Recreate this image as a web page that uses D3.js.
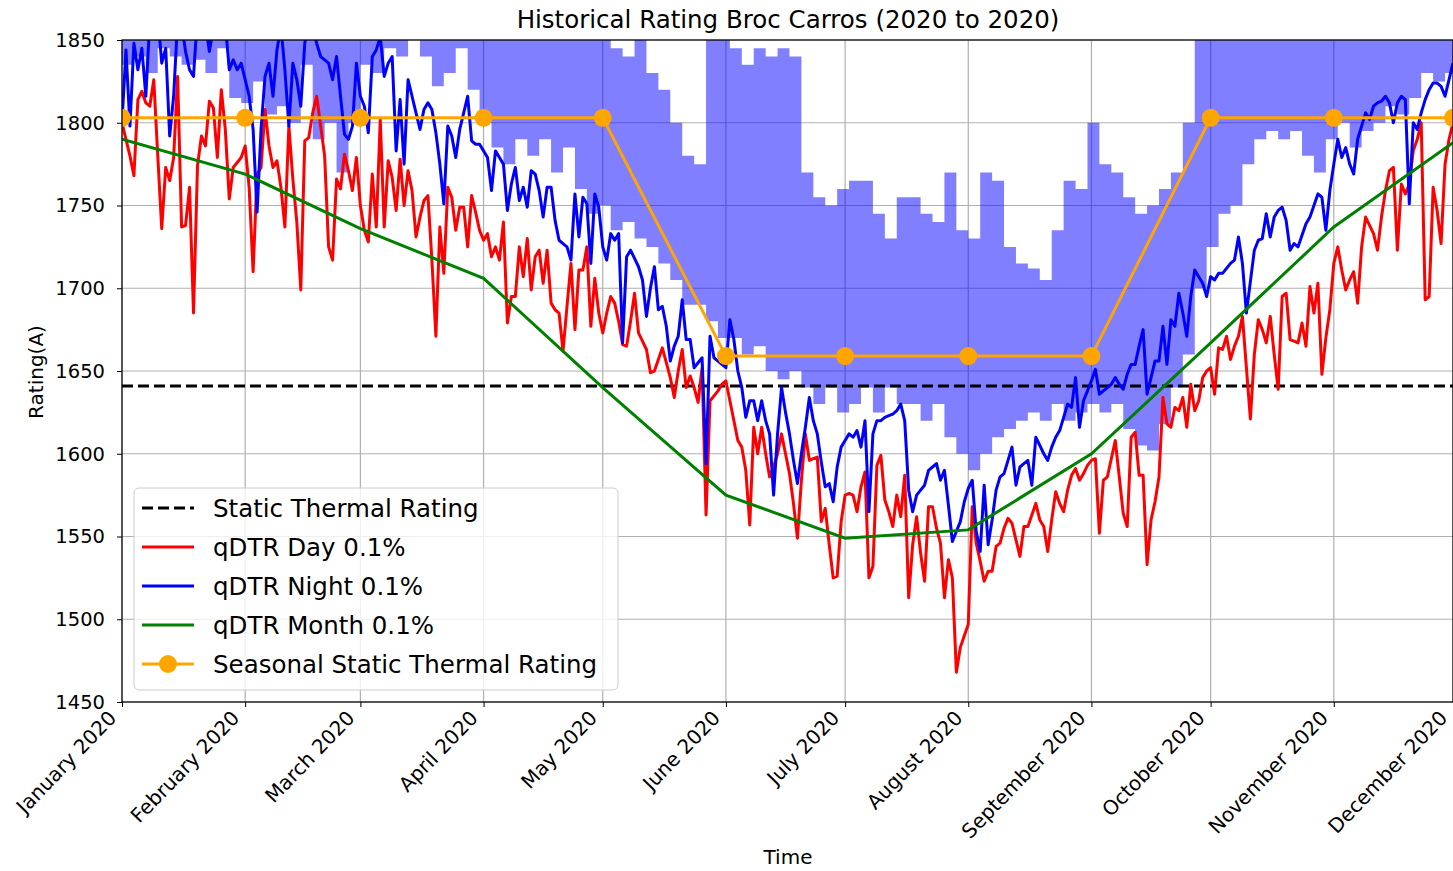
<!DOCTYPE html>
<html>
<head>
<meta charset="utf-8">
<script src="https://cdn.jsdelivr.net/npm/d3@7"></script>
<style>
  body { margin: 0; background: #fff; }
  text { font-family: "DejaVu Sans", sans-serif; fill: #000; }
</style>
</head>
<body>
<svg id="chart" width="1453" height="871"></svg>
<script>
// ---- data ----
const monthLabels = ["January 2020","February 2020","March 2020","April 2020","May 2020","June 2020",
  "July 2020","August 2020","September 2020","October 2020","November 2020","December 2020"];
const yTicks = [1450, 1500, 1550, 1600, 1650, 1700, 1750, 1800, 1850];

// qDTR Month 0.1% (one value at the start of each month)
const monthRating = [1790, 1769, 1736, 1706, 1640, 1575, 1549, 1554, 1600, 1667, 1737, 1788];
// Seasonal Static Thermal Rating (one per month)
const seasonalRating = [1803, 1803, 1803, 1803, 1803, 1659, 1659, 1659, 1659, 1803, 1803, 1803];
const staticRating = 1641;

// qDTR Day 0.1%, one value per day from 1 Jan 2020
const dayRating = [
  1800,1790,1780,1768,1814,1819,1812,1810,1826,1780,
  1736,1773,1765,1779,1828,1737,1738,1761,1685,1774,
  1792,1786,1813,1809,1779,1820,1796,1754,1773,1776,
  1779,1786,1761,1710,1769,1773,1808,1786,1773,1777,
  1761,1737,1798,1766,1740,1699,1789,1791,1806,1816,
  1798,1780,1725,1717,1766,1760,1781,1771,1759,1779,
  1750,1735,1728,1769,1737,1802,1737,1777,1767,1747,
  1778,1750,1771,1759,1731,1743,1753,1756,1717,1671,
  1737,1709,1761,1755,1735,1749,1749,1725,1756,1746,
  1735,1729,1733,1719,1725,1717,1740,1679,1695,1695,
  1725,1707,1730,1699,1719,1723,1703,1723,1691,1687,
  1685,1662,1689,1715,1675,1711,1711,1725,1677,1706,
  1685,1673,1685,1695,1691,1680,1666,1665,1680,1697,
  1673,1668,1663,1649,1650,1657,1664,1655,1646,1634,
  1650,1663,1640,1647,1640,1631,1652,1563,1632,1635,
  1638,1642,1644,1632,1620,1608,1604,1590,1557,1616,
  1600,1616,1600,1586,1592,1600,1612,1600,1588,1570,
  1549,1584,1612,1596,1597,1598,1559,1567,1545,1525,
  1526,1559,1575,1576,1575,1565,1580,1589,1525,1532,
  1593,1599,1572,1565,1556,1575,1562,1587,1513,1545,
  1562,1540,1523,1568,1568,1555,1546,1513,1536,1525,
  1468,1483,1490,1497,1568,1546,1535,1523,1529,1529,
  1544,1546,1555,1561,1558,1548,1538,1556,1556,1563,
  1570,1560,1556,1541,1560,1577,1570,1565,1578,1587,
  1591,1584,1588,1593,1596,1597,1552,1584,1586,1597,
  1608,1586,1564,1556,1610,1613,1587,1587,1533,1560,
  1571,1586,1634,1618,1616,1628,1626,1634,1616,1642,
  1626,1632,1646,1650,1652,1636,1664,1663,1671,1657,
  1665,1671,1683,1652,1621,1660,1681,1675,1667,1683,
  1660,1639,1695,1697,1669,1668,1667,1679,1665,1701,
  1685,1703,1648,1670,1687,1715,1725,1711,1699,1705,
  1710,1691,1725,1743,1738,1733,1723,1743,1759,1771,
  1773,1723,1763,1757,1763,1783,1790,1800,1693,1695,
  1761,1747,1727,1775,1790,1800
];

// qDTR Night 0.1%, one value per day from 1 Jan 2020
const nightRating = [
  1800,1844,1798,1848,1832,1845,1816,1862,1858,1865,
  1836,1845,1792,1816,1862,1860,1843,1832,1828,1865,
  1870,1860,1843,1858,1868,1862,1860,1832,1838,1832,
  1836,1826,1816,1796,1746,1796,1828,1836,1816,1844,
  1858,1832,1798,1836,1826,1810,1848,1862,1858,1848,
  1840,1838,1836,1826,1840,1816,1793,1790,1798,1836,
  1816,1810,1794,1840,1844,1852,1828,1836,1840,1783,
  1814,1775,1826,1816,1806,1796,1808,1812,1808,1794,
  1775,1751,1798,1792,1779,1796,1806,1816,1789,1787,
  1787,1783,1779,1759,1783,1779,1775,1747,1763,1773,
  1753,1761,1749,1771,1769,1759,1743,1761,1761,1741,
  1729,1727,1725,1717,1757,1731,1755,1751,1715,1757,
  1749,1725,1717,1733,1729,1733,1667,1719,1723,1718,
  1713,1705,1683,1700,1713,1687,1689,1677,1656,1665,
  1671,1693,1669,1669,1652,1655,1658,1594,1671,1658,
  1656,1654,1652,1681,1669,1650,1640,1622,1632,1632,
  1620,1632,1620,1612,1575,1612,1640,1625,1612,1596,
  1582,1600,1616,1634,1620,1612,1595,1580,1582,1571,
  1592,1604,1608,1612,1610,1614,1604,1620,1565,1612,
  1620,1620,1622,1623,1624,1626,1630,1620,1578,1565,
  1575,1578,1581,1590,1592,1594,1584,1590,1569,1547,
  1553,1559,1571,1579,1584,1553,1541,1581,1545,1560,
  1578,1586,1588,1596,1604,1581,1592,1594,1596,1581,
  1610,1605,1600,1596,1604,1610,1614,1622,1630,1628,
  1646,1616,1632,1638,1644,1651,1636,1638,1640,1642,
  1646,1642,1639,1648,1654,1654,1665,1675,1636,1646,
  1656,1656,1677,1654,1681,1677,1697,1685,1671,1695,
  1711,1707,1703,1695,1707,1705,1709,1709,1712,1715,
  1717,1731,1715,1685,1704,1723,1729,1730,1745,1731,
  1743,1747,1749,1741,1723,1727,1725,1732,1739,1743,
  1750,1757,1755,1735,1759,1775,1790,1779,1785,1775,
  1769,1790,1798,1806,1802,1810,1812,1813,1816,1812,
  1800,1812,1816,1814,1751,1800,1796,1806,1814,1820,
  1824,1824,1822,1816,1826,1836
];

// hourly rating envelope, one high/low pair every 3 days from 1 Jan 2020
const bandStep = 3;
const hourlyHigh = [
  1850,1850,1850,1850,1850,1850,1850,1850,1850,1850,
  1850,1850,1850,1850,1850,1850,1850,1850,1850,1850,
  1850,1850,1850,1850,1850,1850,1850,1850,1850,1850,
  1850,1850,1850,1850,1850,1850,1850,1850,1850,1850,
  1850,1845,1840,1850,1830,1820,1800,1780,1775,1850,
  1850,1845,1835,1845,1840,1845,1840,1770,1755,1750,
  1760,1765,1765,1745,1730,1755,1755,1745,1740,1770,
  1735,1730,1770,1765,1725,1715,1712,1705,1735,1765,
  1760,1800,1775,1770,1755,1745,1750,1760,1770,1800,
  1850,1850,1850,1850,1850,1850,1850,1850,1850,1850,
  1850,1850,1850,1850,1850,1850,1850,1850,1850,1850,
  1850,1850
];
const hourlyLow = [
  1835,1840,1830,1845,1840,1835,1838,1830,1845,1815,
  1812,1825,1805,1810,1800,1835,1790,1800,1770,1800,
  1835,1830,1845,1840,1850,1840,1822,1830,1845,1820,
  1800,1785,1775,1790,1780,1790,1770,1785,1760,1745,
  1750,1735,1740,1730,1725,1715,1705,1690,1690,1680,
  1670,1670,1660,1665,1650,1645,1650,1640,1630,1640,
  1625,1630,1640,1625,1640,1630,1630,1620,1630,1610,
  1600,1590,1600,1610,1615,1620,1625,1620,1630,1620,
  1625,1630,1625,1630,1615,1605,1602,1618,1640,1660,
  1700,1725,1745,1750,1775,1790,1795,1790,1795,1780,
  1770,1790,1800,1785,1795,1800,1810,1805,1815,1830,
  1825,1830
];

// ---- layout ----
const svg = d3.select('#chart');
const plotLeft = 122, plotRight = 1453, plotTop = 40, plotBottom = 702;
const start = new Date(2020, 0, 1);
const dayDate = i => d3.timeDay.offset(start, i);
const monthStarts = monthLabels.map((m, i) => new Date(2020, i, 1));

const x = d3.scaleTime().domain([start, new Date(2020, 11, 1)]).range([plotLeft, plotRight]);
const y = d3.scaleLinear().domain([1450, 1850]).range([plotBottom, plotTop]);

svg.append('defs').append('clipPath').attr('id', 'plot')
  .append('rect').attr('x', plotLeft).attr('y', plotTop)
  .attr('width', plotRight - plotLeft).attr('height', plotBottom - plotTop);

// grid
const grid = svg.append('g').attr('stroke', '#b0b0b0').attr('stroke-width', 1.2);
grid.selectAll('.gx').data(monthStarts).join('line')
  .attr('x1', d => x(d)).attr('x2', d => x(d)).attr('y1', plotTop).attr('y2', plotBottom);
grid.selectAll('.gy').data(yTicks).join('line')
  .attr('x1', plotLeft).attr('x2', plotRight).attr('y1', d => y(d)).attr('y2', d => y(d));

const plot = svg.append('g').attr('clip-path', 'url(#plot)');

// hourly band
const band = hourlyHigh.map((h, i) => ({ day: i * bandStep, hi: h, lo: hourlyLow[i] }));
band.push({ day: band.length * bandStep, hi: band[band.length - 1].hi, lo: band[band.length - 1].lo });
plot.append('path').datum(band)
  .attr('fill', '#0000ff').attr('fill-opacity', 0.5)
  .attr('d', d3.area().curve(d3.curveStepAfter)
    .x(d => x(dayDate(d.day))).y0(d => y(d.lo)).y1(d => y(d.hi)));

// static thermal rating
plot.append('line')
  .attr('x1', plotLeft).attr('x2', plotRight).attr('y1', y(staticRating)).attr('y2', y(staticRating))
  .attr('stroke', '#000').attr('stroke-width', 3).attr('stroke-dasharray', '11,5');

const dayLine = d3.line().x((d, i) => x(dayDate(i))).y(d => y(d));
plot.append('path').datum(dayRating).attr('d', dayLine)
  .attr('fill', 'none').attr('stroke', '#ff0000').attr('stroke-width', 3).attr('stroke-linejoin', 'round');
plot.append('path').datum(nightRating).attr('d', dayLine)
  .attr('fill', 'none').attr('stroke', '#0000ff').attr('stroke-width', 3).attr('stroke-linejoin', 'round');

const monthLine = d3.line().x((d, i) => x(monthStarts[i])).y(d => y(d));
plot.append('path').datum(monthRating).attr('d', monthLine)
  .attr('fill', 'none').attr('stroke', '#008000').attr('stroke-width', 3);
plot.append('path').datum(seasonalRating).attr('d', monthLine)
  .attr('fill', 'none').attr('stroke', '#ffa500').attr('stroke-width', 3);
plot.selectAll('.dot').data(seasonalRating).join('circle')
  .attr('cx', (d, i) => x(monthStarts[i])).attr('cy', d => y(d)).attr('r', 9)
  .attr('fill', '#ffa500');

// axes
const xAxis = svg.append('g').attr('transform', `translate(0,${plotBottom})`)
  .call(d3.axisBottom(x).tickValues(monthStarts).tickSize(5)
    .tickFormat((d, i) => monthLabels[i]));
xAxis.selectAll('text')
  .attr('x', 0).attr('y', 0).attr('dy', 0)
  .attr('text-anchor', 'end')
  .attr('transform', 'translate(-5,17) rotate(-46)')
  .style('font-size', '20px');

const yAxis = svg.append('g').attr('transform', `translate(${plotLeft},0)`)
  .call(d3.axisLeft(y).tickValues(yTicks).tickSize(5).tickPadding(12).tickFormat(d3.format('d')));
yAxis.selectAll('text').style('font-size', '19.5px');
svg.selectAll('.domain').remove();
svg.selectAll('.tick line').attr('stroke', '#000').attr('stroke-width', 1);

// spines
svg.append('rect').attr('x', plotLeft).attr('y', plotTop)
  .attr('width', plotRight - plotLeft).attr('height', plotBottom - plotTop)
  .attr('fill', 'none').attr('stroke', '#000').attr('stroke-width', 1.2);

// titles
svg.append('text').attr('x', 788).attr('y', 28).attr('text-anchor', 'middle')
  .style('font-size', '24.5px').text('Historical Rating Broc Carros (2020 to 2020)');
svg.append('text').attr('x', 788).attr('y', 864).attr('text-anchor', 'middle')
  .style('font-size', '20px').text('Time');
svg.append('text').attr('transform', 'translate(43,372) rotate(-90)').attr('text-anchor', 'middle')
  .style('font-size', '20px').text('Rating(A)');

// legend
const legendItems = [
  { label: 'Static Thermal Rating', color: '#000', dash: '11,5', marker: false },
  { label: 'qDTR Day 0.1%', color: '#ff0000', dash: null, marker: false },
  { label: 'qDTR Night 0.1%', color: '#0000ff', dash: null, marker: false },
  { label: 'qDTR Month 0.1%', color: '#008000', dash: null, marker: false },
  { label: 'Seasonal Static Thermal Rating', color: '#ffa500', dash: null, marker: true }
];
const legend = svg.append('g').attr('transform', 'translate(134,488)');
legend.append('rect').attr('width', 484).attr('height', 202).attr('rx', 5)
  .attr('fill', '#fff').attr('fill-opacity', 0.8).attr('stroke', '#cccccc');
const row = legend.selectAll('.row').data(legendItems).join('g')
  .attr('transform', (d, i) => `translate(0,${20 + i * 39})`);
row.append('line').attr('x1', 8).attr('x2', 60)
  .attr('stroke', d => d.color).attr('stroke-width', 3)
  .attr('stroke-dasharray', d => d.dash);
row.filter(d => d.marker).append('circle').attr('cx', 34).attr('r', 9).attr('fill', d => d.color);
row.append('text').attr('x', 79).attr('dy', '0.35em').style('font-size', '24.5px').text(d => d.label);
</script>
</body>
</html>
